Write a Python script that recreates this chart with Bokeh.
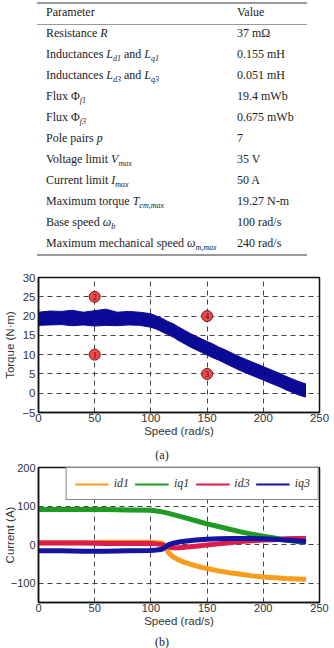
from bokeh.plotting import figure
from bokeh.models import (Div, FixedTicker, Range1d, Legend, LegendItem,
                          ColumnDataSource)
from bokeh.layouts import column
from bokeh.core.properties import value
from bokeh.embed import file_html
from bokeh.resources import INLINE

# ---------------- table data ----------------
param_names = [
    "Resistance <i>R</i>",
    "Inductances <i>L<sub>d1</sub></i> and <i>L<sub>q1</sub></i>",
    "Inductances <i>L<sub>d3</sub></i> and <i>L<sub>q3</sub></i>",
    "Flux &Phi;<sub><i>f1</i></sub>",
    "Flux &Phi;<sub><i>f3</i></sub>",
    "Pole pairs <i>p</i>",
    "Voltage limit <i>V<sub>max</sub></i>",
    "Current limit <i>I<sub>max</sub></i>",
    "Maximum torque <i>T<sub>em,max</sub></i>",
    "Base speed <i>&omega;<sub>b</sub></i>",
    "Maximum mechanical speed <i>&omega;<sub>m,max</sub></i>",
]
param_values = ["37 m&Omega;", "0.155 mH", "0.051 mH", "19.4 mWb", "0.675 mWb",
                "7", "35 V", "50 A", "19.27 N-m", "100 rad/s", "240 rad/s"]

# ---------------- plot (a) data ----------------
speed_a = [0, 10, 20, 30, 40, 50, 60, 70, 80, 90, 100, 105, 110, 115, 120, 125, 130,
           135, 140, 145, 150, 155, 160, 165, 170, 175, 180, 185, 190, 195, 200, 205,
           210, 215, 220, 225, 230, 235, 238]
torque_upper = [21.0, 21.3, 21.2, 21.5, 21.0, 21.4, 21.8, 21.0, 21.2, 21.0, 20.6, 20.0,
                19.4, 18.6, 18.0, 17.1, 16.3, 15.5, 14.8, 14.1, 13.4, 12.8, 12.0, 11.4,
                10.7, 10.0, 9.3, 8.7, 8.1, 7.5, 6.9, 6.3, 5.7, 5.1, 4.4, 3.8, 3.2, 2.7, 2.4]
torque_lower = [17.6, 17.7, 17.8, 17.5, 17.7, 17.4, 17.6, 17.5, 17.7, 17.6, 17.1, 16.6,
                15.9, 15.2, 14.5, 13.6, 12.8, 12.0, 11.3, 10.6, 9.9, 9.2, 8.6, 7.9, 7.2,
                6.5, 5.8, 5.2, 4.6, 4.0, 3.4, 2.8, 2.2, 1.6, 0.9, 0.3, -0.3, -0.8, -1.0]
point_x = [50, 50, 150, 150]
point_y = [10, 25, 5, 20]
point_labels = ["1", "2", "3", "4"]

# ---------------- plot (b) data ----------------
speed_b = [0, 20, 40, 60, 80, 100, 105, 110, 113, 116, 120, 125, 130, 140, 150, 160,
           170, 180, 190, 200, 210, 220, 230, 238]
i_d1 = [5, 5, 5, 6, 6, 6, 5, 4, -8, -22, -32, -40, -46, -55, -62, -68, -73, -77, -81,
        -84, -86, -88, -89, -90]
i_q1 = [91, 91, 91, 91, 90, 89, 87, 85, 83, 81, 78, 74, 70, 62, 54, 47, 40, 33, 27, 22,
        17, 12, 8, 6]
i_d3 = [4, 4, 4, 3, 3, 3, 2, 0, -3, -6, -8, -8, -7, -4, -1, 2, 5, 8, 10, 12, 13, 15, 16, 16]
i_q3 = [-16, -16, -17, -17, -16, -15, -14, -12, -6, 0, 4, 7, 9, 12, 14, 15, 16, 16, 16, 15,
        14, 12, 10, 8]
series_names = ["id1", "iq1", "id3", "iq3"]
series_colors = ["#f89c1c", "#1f9a24", "#dc1d4c", "#14149e"]

x_ticks = [0, 50, 100, 150, 200, 250]
ya_ticks = [-5, 0, 5, 10, 15, 20, 25, 30]
yb_ticks = [-100, 0, 100, 200]

SANS = "Liberation Sans"
SERIF = "Liberation Serif"
SERIF_CSS = "'Liberation Serif','Times New Roman',Times,serif"

# ---------------- table (Div) ----------------
parts = ['<div style="position:relative;width:334px;height:262px;font-family:%s;'
         'font-size:12px;color:#222;">' % SERIF_CSS]
rule = ('<div style="position:absolute;left:37px;width:270px;top:%dpx;height:%spx;'
        'background:#999;"></div>')
parts.append(rule % (2, "1.5"))
parts.append(rule % (24, "1"))
parts.append(rule % (254, "1.5"))
cell = ('<div style="position:absolute;left:%dpx;top:%dpx;line-height:14px;'
        'white-space:nowrap;font-family:%s;">%s</div>')
parts.append(cell % (46, 5, SERIF_CSS, "Parameter"))
parts.append(cell % (237, 5, SERIF_CSS, "Value"))
for i, (pn, pv) in enumerate(zip(param_names, param_values)):
    top = 26 + 21 * i
    pn = pn.replace("<sub>", '<sub style="font-size:8px;">')
    parts.append(cell % (46, top, SERIF_CSS, pn))
    parts.append(cell % (237, top, SERIF_CSS, pv))
parts.append("</div>")
table = Div(text="".join(parts), width=334, height=262, margin=0)


def caption(txt, pad):
    return Div(text=('<div style="width:334px;text-align:center;font-family:%s;'
                     'font-size:12px;line-height:12px;padding-top:%dpx;color:#222;'
                     'padding-right:10px;box-sizing:border-box;">%s</div>')
               % (SERIF_CSS, pad, txt), width=334, height=16, margin=0)


def style(p, yticks, tick_size):
    p.outline_line_color = "#111"
    p.outline_line_width = 1.5
    p.xaxis.ticker = FixedTicker(ticks=x_ticks)
    p.yaxis.ticker = FixedTicker(ticks=yticks)
    for ax in (p.xaxis[0], p.yaxis[0]):
        ax.axis_line_color = "#111"
        ax.axis_line_width = 1.5
        ax.major_tick_in = 0
        ax.major_tick_out = 0
        ax.minor_tick_line_color = None
        ax.major_label_text_font = SANS
        ax.major_label_text_font_size = tick_size
        ax.major_label_text_color = "#333"
        ax.axis_label_text_font = SANS
        ax.axis_label_text_font_size = "11.5px"
        ax.axis_label_text_font_style = "normal"
        ax.axis_label_text_color = "#333"
    p.xaxis.major_label_standoff = 1
    p.xaxis.axis_label_standoff = 0
    p.yaxis.major_label_standoff = 3
    for g in (p.xgrid[0], p.ygrid[0]):
        g.grid_line_color = "#444"
        g.grid_line_dash = "5 4"
        g.grid_line_width = 1
    p.xaxis.axis_label = "Speed (rad/s)"


# ---------------- plot (a) ----------------
pa = figure(width=334, height=185, output_backend="svg", toolbar_location=None,
            x_range=Range1d(0, 250), y_range=Range1d(-5, 30),
            min_border_left=38, min_border_right=15, min_border_top=15,
            min_border_bottom=35)
style(pa, ya_ticks, "11.5px")
pa.yaxis.axis_label = "Torque (N\u00b7m)"
pa.yaxis.axis_label_standoff = 3
pa.varea(x=speed_a, y1=torque_lower, y2=torque_upper, fill_color="#0a0a96")
pa.line(x=speed_a, y=torque_upper, line_color="#0a0a96", line_width=1)
pa.line(x=speed_a, y=torque_lower, line_color="#0a0a96", line_width=1)
src_pts = ColumnDataSource(dict(x=point_x, y=point_y, t=point_labels))
pa.scatter("x", "y", source=src_pts, size=11, fill_color="#ee4a4c",
           line_color="#7a1a1a", line_width=1)
pa.text("x", "y", text="t", source=src_pts, text_align="center",
        text_baseline="middle", text_font=value(SERIF), text_font_size="8px",
        text_color="#5a0000")

# ---------------- plot (b) ----------------
pb = figure(width=334, height=169, output_backend="svg", toolbar_location=None,
            x_range=Range1d(0, 250), y_range=Range1d(-150, 200),
            min_border_left=38, min_border_right=15, min_border_top=4,
            min_border_bottom=30)
style(pb, yb_ticks, "11px")
pb.yaxis.axis_label = "Current (A)"
pb.yaxis.axis_label_standoff = -8
pb.yaxis.major_label_standoff = 3
items = []
for name, ys, col in zip(series_names, [i_d1, i_q1, i_d3, i_q3], series_colors):
    key = pb.line(x=speed_b, y=ys, line_color=col, line_width=2)
    pb.line(x=speed_b, y=ys, line_color=col, line_width=5)
    items.append(LegendItem(label=name, renderers=[key]))
leg = Legend(items=items, orientation="horizontal", location="top_right", margin=0,
             padding=8, spacing=6, label_standoff=5, glyph_width=34, glyph_height=12,
             label_height=12, label_width=14, label_text_font=SERIF,
             label_text_font_style="italic",
             label_text_font_size="12px", label_text_color="#333",
             border_line_color="#111", border_line_width=1.5,
             background_fill_color="white", background_fill_alpha=1)
pb.add_layout(leg)

layout = column(table, pa, caption("(a)", 1), pb, caption("(b)", 4), spacing=0)
open("out.html", "w").write(file_html(layout, INLINE))
